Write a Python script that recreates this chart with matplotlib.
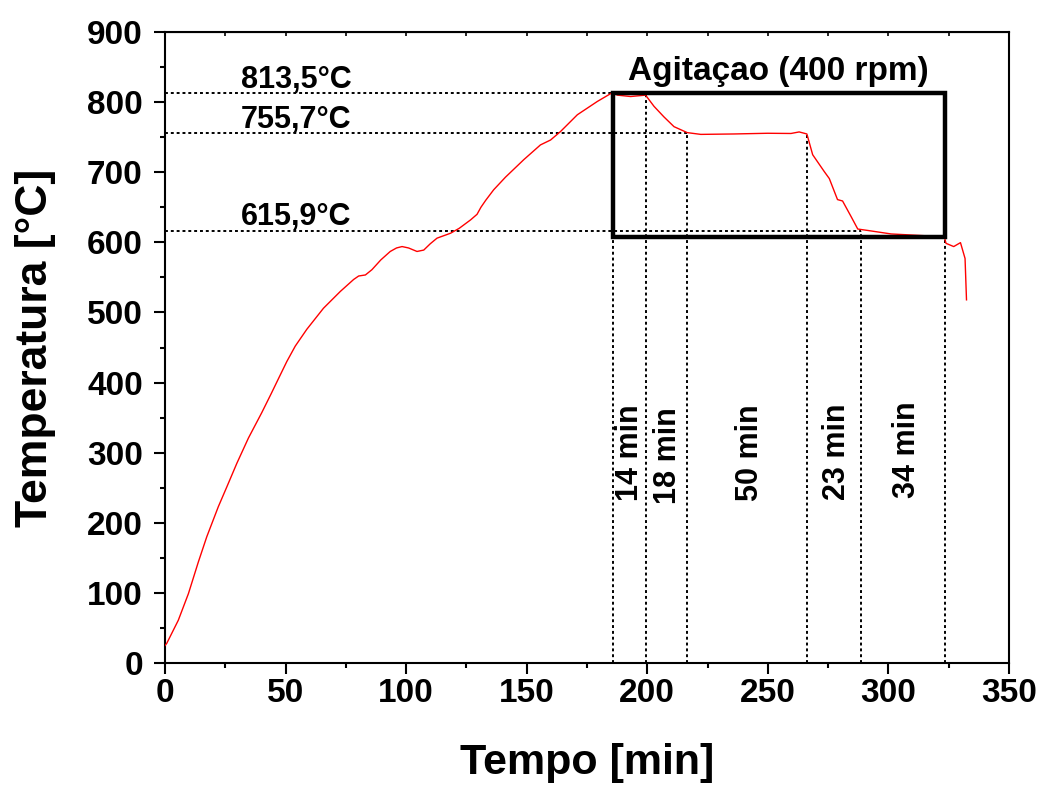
import numpy as np
import matplotlib
matplotlib.use("Agg")
import matplotlib.pyplot as plt
from matplotlib.patches import Rectangle
from matplotlib.ticker import MultipleLocator

plt.rcParams['font.family'] = ['Liberation Sans', 'DejaVu Sans']
plt.rcParams['font.weight'] = 'bold'

# temperature curve
tempo = [0.0, 0.7, 5.5, 9.7, 13.8, 17.3, 22.1, 25.6, 29.8, 34.6, 40.1, 44.0,
         47.1, 50.5, 54.0, 58.8, 65.7, 72.7, 78.2, 80.3, 83.1, 85.8, 89.5,
         93.4, 96.0, 98.3, 101.0, 104.5, 107.3, 110.0, 112.8, 118.4, 122.0,
         126.7, 129.4, 131.0, 133.0, 136.3, 141.2, 148.8, 155.7, 159.9, 164.0,
         171.0, 179.3, 185.5, 187.6, 193.1, 199.3, 202.8, 206.9, 211.1, 216.6,
         222.2, 236.0, 249.9, 259.6, 263.0, 266.2, 268.6, 273.4, 275.5, 278.9,
         281.0, 284.5, 287.3, 291.4, 301.1, 314.9, 323.2, 323.9, 327.1, 329.9,
         331.8, 332.4]
temp = [25, 28, 61, 99, 144, 180, 223, 251, 285, 321, 357, 384,
        406, 430, 452, 476, 506, 530, 547, 552, 553.5, 561, 575,
        587, 592, 594, 592, 587, 589, 598, 606, 613, 620,
        632, 640, 650, 660, 675, 693, 718, 739, 746, 758,
        782, 801, 813.5, 810, 808, 810, 794, 779, 765, 756.5,
        754, 754.6, 755.6, 755.3, 757.5, 754.6, 725, 701, 691, 661,
        659, 637, 619, 617, 612, 609.5, 608, 598.6, 594, 599.6,
        577, 518]

# reference levels and stage marks
niveis = [813.5, 755.7, 615.9]
niveis_fim = [185.6, 216.4, 288.6]
niveis_txt = ['813,5°C', '755,7°C', '615,9°C']
niveis_txt_y = [819.8, 762.7, 624.8]

marcas = [185.6, 199.3, 216.4, 266.2, 288.6, 323.5]
marcas_topo = [813.5, 810, 755.7, 755.7, 615.9, 608]

etapas = ['14 min', '18 min', '50 min', '23 min', '34 min']
etapas_x = [192.8, 208.7, 242.5, 278.6, 307.6]
etapas_y = [299.6, 296.0, 300.3, 301.7, 303.8]

caixa = (185.6, 608, 323.5, 813.5)

fig = plt.figure(figsize=(10.38, 7.85), dpi=100)
ax = fig.add_axes([0.159, 0.1554, 0.813, 0.8038])

ax.plot(tempo, temp, color='#ff0000', lw=1.0, zorder=3)

dots = (0, (1.5, 1.5))
for y, xe in zip(niveis, niveis_fim):
    ax.plot([0, xe], [y, y], color='black', lw=1.4, ls=dots, zorder=2)
for x, yt in zip(marcas, marcas_topo):
    ax.plot([x, x], [0, yt], color='black', lw=1.4, ls=dots, zorder=2)

for s, y in zip(niveis_txt, niveis_txt_y):
    ax.text(31.5, y, s, fontsize=22, fontweight='bold', ha='left', va='baseline')

for s, x, y in zip(etapas, etapas_x, etapas_y):
    ax.text(x, y, s, fontsize=22, fontweight='bold', rotation=90,
            ha='center', va='center')

x0, y0, x1, y1 = caixa
ax.add_patch(Rectangle((x0, y0), x1 - x0, y1 - y0, fill=False,
                       edgecolor='black', lw=3.2, zorder=4))
ax.text(254.4, 831.7, 'Agitaçao (400 rpm)', fontsize=24, fontweight='bold',
        ha='center', va='baseline')

ax.set_xlim(0, 350)
ax.set_ylim(0, 900)
ax.xaxis.set_major_locator(MultipleLocator(50))
ax.xaxis.set_minor_locator(MultipleLocator(25))
ax.yaxis.set_major_locator(MultipleLocator(100))
ax.yaxis.set_minor_locator(MultipleLocator(50))

for sp in ax.spines.values():
    sp.set_linewidth(1.5)

ax.tick_params(which='major', direction='out', length=8, width=1.5,
               labelsize=24)
ax.tick_params(axis='x', which='major', pad=3)
ax.tick_params(axis='y', which='major', pad=8)
ax.tick_params(which='minor', direction='out', length=3.5, width=1.5)
for lab in ax.get_xticklabels() + ax.get_yticklabels():
    lab.set_fontweight('bold')

top = ax.secondary_xaxis('top')
top.xaxis.set_major_locator(MultipleLocator(25))
top.tick_params(direction='in', length=3, width=1.2, labeltop=False)
top.xaxis.set_minor_locator(MultipleLocator(25))
top.tick_params(which='minor', length=0)

ax.set_xlabel('Tempo [min]', fontsize=31, fontweight='bold', labelpad=24)
ax.set_ylabel('Temperatura [°C]', fontsize=32, fontweight='bold', labelpad=22)

fig.savefig('out.png', dpi=100)
